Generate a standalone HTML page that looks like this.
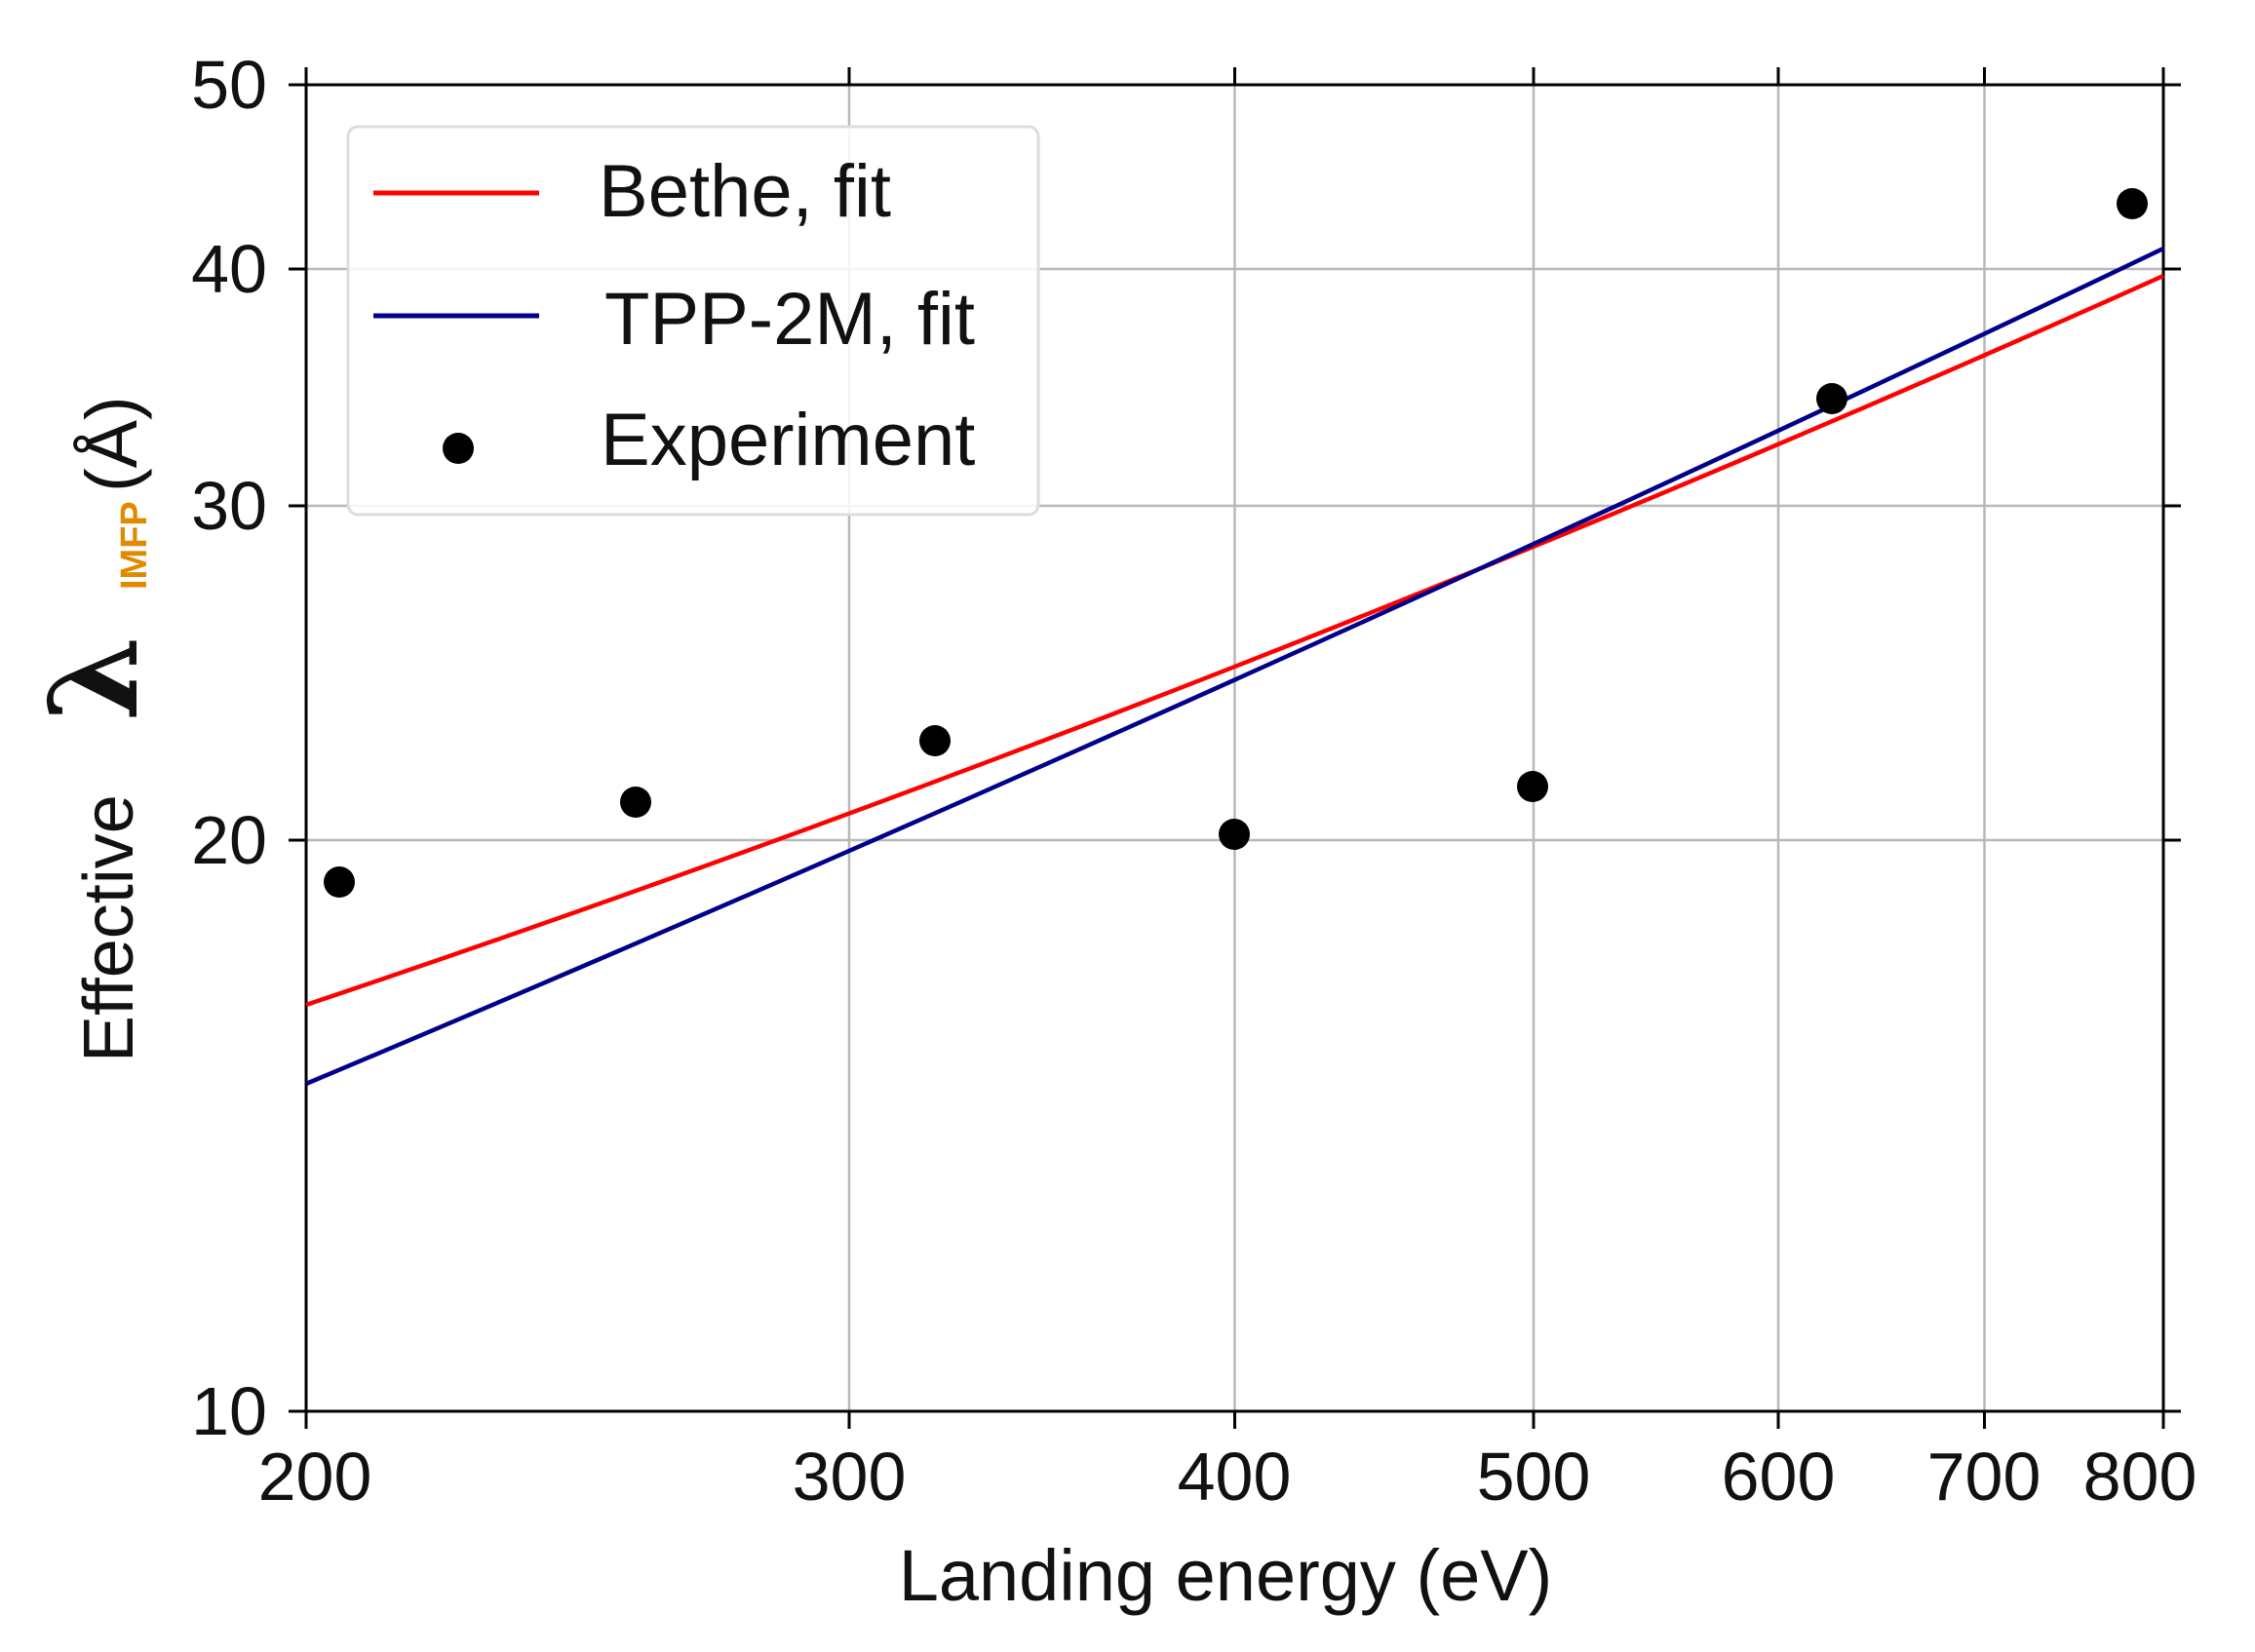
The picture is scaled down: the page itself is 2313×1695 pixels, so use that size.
<!DOCTYPE html>
<html><head><meta charset="utf-8"><style>body{margin:0;background:#fff}svg{display:block}</style></head>
<body>
<svg width="2313" height="1695" viewBox="0 0 2313 1695" xmlns="http://www.w3.org/2000/svg" font-family="'Liberation Sans',sans-serif">
<rect width="2313" height="1695" fill="#fff"/>
<g stroke="#b8b8b8" stroke-width="2.5">
<line x1="871" y1="87" x2="871" y2="1448"/>
<line x1="1266.5" y1="87" x2="1266.5" y2="1448"/>
<line x1="1573" y1="87" x2="1573" y2="1448"/>
<line x1="1824" y1="87" x2="1824" y2="1448"/>
<line x1="2035.5" y1="87" x2="2035.5" y2="1448"/>
<line x1="314" y1="862" x2="2219" y2="862"/>
<line x1="314" y1="519" x2="2219" y2="519"/>
<line x1="314" y1="276" x2="2219" y2="276"/>
</g>
<g stroke="#000" stroke-width="3">
<rect x="314" y="87" width="1905" height="1361" fill="none"/>
<path d="M296 87H314M296 276H314M296 519H314M296 862H314M296 1448H314M2219 87H2237M2219 276H2237M2219 519H2237M2219 862H2237M2219 1448H2237"/>
<path d="M314 1448V1466M871 1448V1466M1266.5 1448V1466M1573 1448V1466M1824 1448V1466M2035.5 1448V1466M2219 1448V1466M314 69V87M871 69V87M1266.5 69V87M1573 69V87M1824 69V87M2035.5 69V87M2219 69V87"/>
</g>
<path fill="none" stroke="#ff0000" stroke-width="4.5" d="M314 1031 Q1266.5 711 2219 283"/>
<path fill="none" stroke="#00008b" stroke-width="4.5" d="M314 1112 Q1266.5 711.5 2219 255"/>
<g fill="#000">
<circle cx="348" cy="905" r="16"/><circle cx="652" cy="823" r="16"/><circle cx="959" cy="760" r="16"/>
<circle cx="1266" cy="856" r="16"/><circle cx="1572" cy="807" r="16"/><circle cx="1879" cy="409" r="16"/><circle cx="2187" cy="209" r="16"/>
</g>
<g font-size="70" text-anchor="end" fill="#111">
<text x="274" y="111">50</text><text x="274" y="300">40</text><text x="274" y="543">30</text><text x="274" y="886">20</text><text x="274" y="1472">10</text>
</g>
<g font-size="70" text-anchor="middle" fill="#111">
<text x="323" y="1539">200</text><text x="871" y="1539">300</text><text x="1266" y="1539">400</text><text x="1573" y="1539">500</text><text x="1824" y="1539">600</text><text x="2035" y="1539">700</text><text x="2195" y="1539">800</text>
</g>
<text x="1257" y="1642" font-size="74" text-anchor="middle" fill="#111">Landing energy (eV)</text>
<g fill="#111">
<text transform="translate(136,1090) rotate(-90)" font-size="72">Effective</text>
<text transform="translate(140,740) rotate(-90)" font-size="125" font-weight="bold" font-family="'DejaVu Serif',serif">λ</text>
<text transform="translate(150,605) rotate(-90)" font-size="38" font-weight="bold" fill="#e08a00">IMFP</text>
<text transform="translate(140,505) rotate(-90)" font-size="74">(Å)</text>
</g>
<rect x="357" y="130" width="708" height="398" rx="10" fill="#fff" fill-opacity="0.85" stroke="#ddd" stroke-width="3"/>
<line x1="383" y1="198" x2="553" y2="198" stroke="#ff0000" stroke-width="5"/>
<line x1="383" y1="324" x2="553" y2="324" stroke="#00008b" stroke-width="5"/>
<circle cx="470" cy="460" r="16" fill="#000"/>
<g font-size="76" fill="#111">
<text x="614" y="222">Bethe, fit</text>
<text x="620" y="353">TPP-2M, fit</text>
<text x="616" y="477">Experiment</text>
</g>
</svg>
</body></html>
